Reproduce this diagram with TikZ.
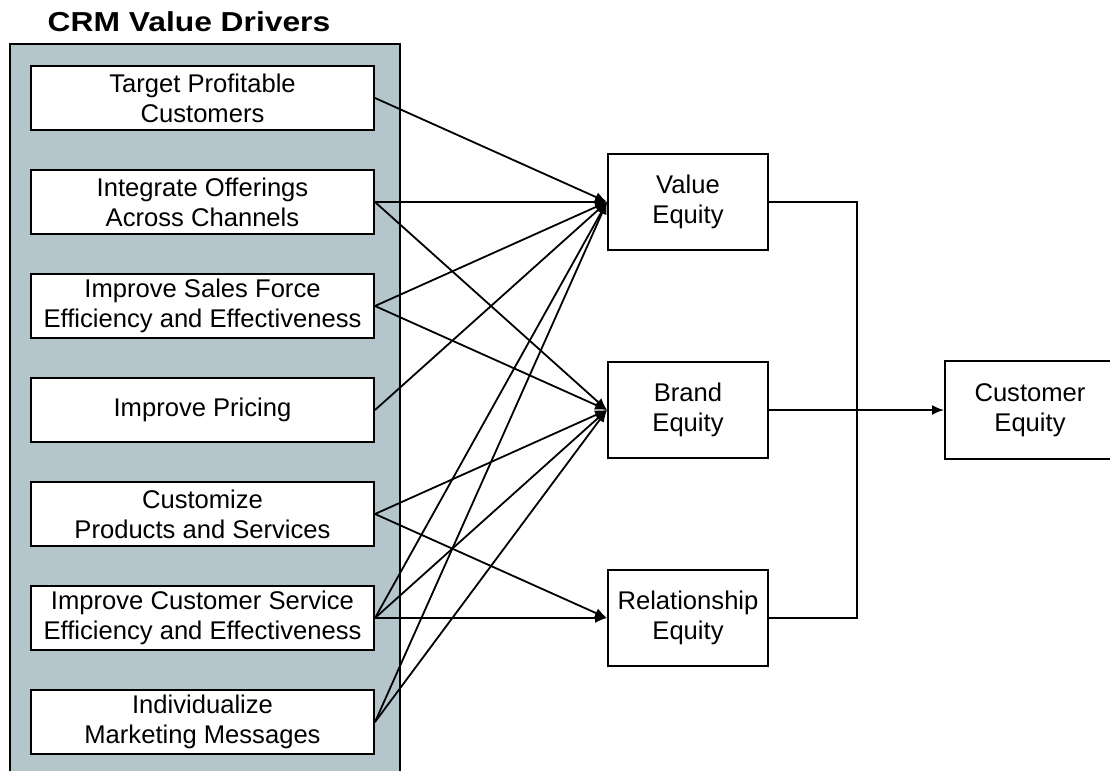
\documentclass[tikz,border=0pt]{standalone}
\usepackage{fontspec}
\setmainfont{Liberation Sans}
\newfontfamily\titlefont[FakeStretch=1.16]{Liberation Sans}
\usetikzlibrary{positioning, arrows.meta}
\definecolor{panelgray}{RGB}{180,198,204}

\begin{document}
\begin{tikzpicture}[x=0.5pt, y=-0.5pt, >={Latex[length=6pt,width=5pt]}, node distance = 19pt,%
	every node/.style={font=\fontsize{12.8}{15}\selectfont},
	driver/.style={rectangle, draw, fill=white, line width=1pt, minimum width=171.5pt, minimum height=32pt, align=center, inner sep=0pt},
	equity/.style={rectangle, draw, fill=white, line width=1pt, minimum width=80pt, minimum height=48pt, align=center, inner sep=0pt},
	link/.style={->, line width=0.9pt}]
	\useasboundingbox (0,0) rectangle (1110,771);
	\draw[fill=panelgray, line width=1pt] (10,44) rectangle (400,800);
	\node (title) at (189,22) {\titlefont\bfseries\fontsize{13.7}{15}\selectfont CRM Value Drivers};

	\node[driver] (d1) at (202.5,98) {Target Profitable\\Customers};
	\node[driver] (d2) [below = of d1] {Integrate Offerings\\Across Channels};
	\node[driver] (d3) [below = of d2] {Improve Sales Force\\Efficiency and Effectiveness};
	\node[driver] (d4) [below = of d3] {Improve Pricing};
	\node[driver] (d5) [below = of d4] {Customize\\Products and Services};
	\node[driver] (d6) [below = of d5] {Improve Customer Service\\Efficiency and Effectiveness};
	\node[driver] (d7) [below = of d6] {Individualize\\Marketing Messages};

	\node[equity] (value) [right = 116pt of d2] {Value\\Equity};
	\node[equity] (brand) [right = 116pt of d4] {Brand\\Equity};
	\node[equity] (rel) [right = 116pt of d6] {Relationship\\Equity};
	\node[equity, minimum width=85pt, minimum height=49pt] (cust) [right = 87.5pt of brand] {Customer\\Equity};

	\path[link]
	(d1.east) edge (value.west)
	(d2.east) edge (value.west)
		edge (brand.west)
	(d3.east) edge (value.west)
		edge (brand.west)
	(d4.east) edge (value.west)
	(d5.east) edge (brand.west)
		edge (rel.west)
	(d6.east) edge (value.west)
		edge (brand.west)
		edge (rel.west)
	(d7.east) edge (value.west)
		edge (brand.west)
	(brand.east) edge (cust.west);

	\draw[line width=0.9pt] (value.east) -- ++(88,0) |- (rel.east);
\end{tikzpicture}
\end{document}
